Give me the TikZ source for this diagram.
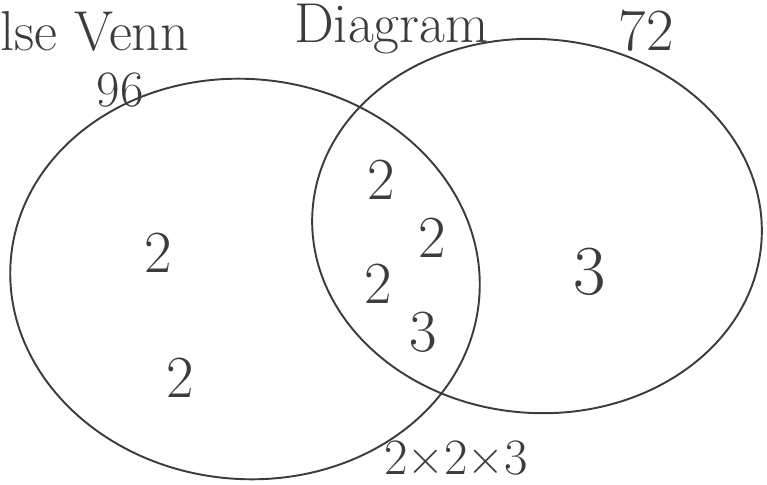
\documentclass[tikz,border=0pt]{standalone}
\usepackage{tikz}
\usetikzlibrary{positioning}
\definecolor{penGray}{HTML}{3C3C3C}
\tikzset{
  hand/.style={penGray, inner sep=0pt, font=\fontsize{34}{38}\selectfont},
  setline/.style={penGray, line width=1.1pt}
}

\begin{document}
\begin{tikzpicture}[x=0.02cm, y=-0.02cm]
  \useasboundingbox (0,0) rectangle (767,484);
  % the two sets
  \draw[setline, rotate around={-5:(245,279)}] (245,279) ellipse (235 and 200);
  \draw[setline, rotate around={-4:(537,226)}] (537,226) ellipse (225 and 187);
  % headings
  \node[hand, anchor=base west, font=\fontsize{32}{36}\selectfont] (title) at (0,50)
      {lse Venn\hspace{2.1cm}\raisebox{4pt}{Diagram}};
  \node[hand, font=\fontsize{29}{34}\selectfont] (lhead) at (120,90) {96};
  \node[hand] (rhead) at (646,31) {72};
  % prime factors
  \node[hand] (a1) at (158,253) {2};
  \node[hand] (a2) at (180,378) {2};
  \node[hand] (c1) at (381,180) {2};
  \node[hand] (c2) at (432,238) {2};
  \node[hand] (c3) at (378,284) {2};
  \node[hand] (c4) at (423,332) {3};
  \node[hand, font=\fontsize{40}{44}\selectfont] (b1) at (590,272) {3};
  \node[hand, font=\fontsize{29}{34}\selectfont] (prod) at (456,458) {2×2×3};
\end{tikzpicture}
\end{document}
